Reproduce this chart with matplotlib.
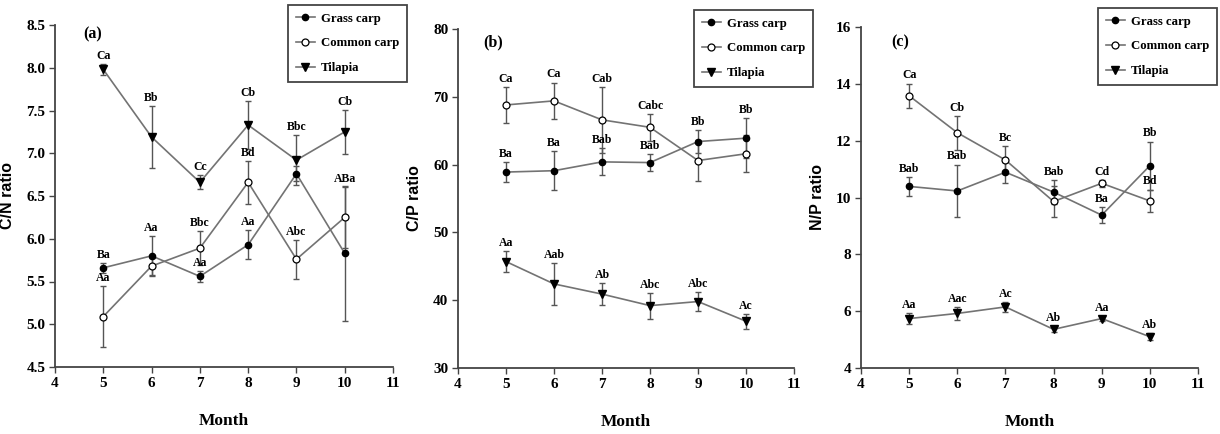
import matplotlib
matplotlib.use("Agg")
import matplotlib.pyplot as plt
from matplotlib.lines import Line2D

months = [5, 6, 7, 8, 9, 10]
series_names = ["Grass carp", "Common carp", "Tilapia"]

# Panel (a) C/N ratio
cn_grass = [5.66, 5.80, 5.56, 5.93, 6.76, 5.83]
cn_grass_err = [0.06, 0.23, 0.06, 0.17, 0.09, 0.79]
cn_common = [5.09, 5.68, 5.89, 6.66, 5.76, 6.25]
cn_common_err = [0.36, 0.10, 0.20, 0.25, 0.23, 0.36]
cn_tilapia = [7.98, 7.19, 6.66, 7.33, 6.92, 7.25]
cn_tilapia_err = [0.06, 0.36, 0.08, 0.28, 0.29, 0.26]
cn_grass_lab = ["Ba", "Aa", "Aa", "Aa", None, None]
cn_common_lab = ["Aa", None, "Bbc", "Bd", "Abc", "ABa"]
cn_tilapia_lab = ["Ca", "Bb", "Cc", "Cb", "Bbc", "Cb"]

# Panel (b) C/P ratio
cp_grass = [58.9, 59.1, 60.4, 60.3, 63.4, 63.9]
cp_grass_err = [1.5, 2.9, 2.0, 1.2, 1.7, 2.9]
cp_common = [68.8, 69.4, 66.6, 65.5, 60.6, 61.6]
cp_common_err = [2.6, 2.7, 4.9, 2.0, 3.0, 2.7]
cp_tilapia = [45.7, 42.4, 40.9, 39.2, 39.8, 36.9]
cp_tilapia_err = [1.6, 3.1, 1.6, 1.9, 1.4, 1.1]
cp_grass_lab = ["Ba", "Ba", "Bab", "Bab", "Bb", "Bb"]
cp_common_lab = ["Ca", "Ca", "Cab", "Cabc", None, None]
cp_tilapia_lab = ["Aa", "Aab", "Ab", "Abc", "Abc", "Ac"]

# Panel (c) N/P ratio
np_grass = [10.39, 10.23, 10.89, 10.19, 9.38, 11.12]
np_grass_err = [0.33, 0.93, 0.37, 0.42, 0.27, 0.85]
np_common = [13.58, 12.28, 11.32, 9.86, 10.50, 9.88]
np_common_err = [0.43, 0.60, 0.50, 0.55, 0.12, 0.40]
np_tilapia = [5.74, 5.92, 6.15, 5.36, 5.74, 5.10]
np_tilapia_err = [0.20, 0.22, 0.18, 0.10, 0.08, 0.12]
np_grass_lab = ["Bab", "Bab", None, "Bab", "Ba", "Bb"]
np_common_lab = ["Ca", "Cb", "Bc", None, "Cd", "Bd"]
np_tilapia_lab = ["Aa", "Aac", "Ac", "Ab", "Aa", "Ab"]

panel_letters = ["(a)", "(b)", "(c)"]
y_labels = ["C/N ratio", "C/P ratio", "N/P ratio"]
y_ticks = [
    [4.5, 5.0, 5.5, 6.0, 6.5, 7.0, 7.5, 8.0, 8.5],
    [30, 40, 50, 60, 70, 80],
    [4, 6, 8, 10, 12, 14, 16],
]
y_ticklabels = [
    ["4.5", "5.0", "5.5", "6.0", "6.5", "7.0", "7.5", "8.0", "8.5"],
    ["30", "40", "50", "60", "70", "80"],
    ["4", "6", "8", "10", "12", "14", "16"],
]
x_ticks = [4, 5, 6, 7, 8, 9, 10, 11]

panels = [
    ([cn_grass, cn_common, cn_tilapia], [cn_grass_err, cn_common_err, cn_tilapia_err],
     [cn_grass_lab, cn_common_lab, cn_tilapia_lab]),
    ([cp_grass, cp_common, cp_tilapia], [cp_grass_err, cp_common_err, cp_tilapia_err],
     [cp_grass_lab, cp_common_lab, cp_tilapia_lab]),
    ([np_grass, np_common, np_tilapia], [np_grass_err, np_common_err, np_tilapia_err],
     [np_grass_lab, np_common_lab, np_tilapia_lab]),
]

W, H = 1220, 434
fig = plt.figure(figsize=(W / 100, H / 100), dpi=100)

axes_px = [(55, 393, 25, 367), (458, 794, 29, 368), (861, 1198, 27, 368)]
legend_anchor_px = [(407, 5), (813, 10), (1217, 8)]
letter_pos = [(4.58, 0.973), (4.52, 0.96), (4.62, 0.955)]

serif = "Liberation Serif"
sans = "Liberation Sans"
line_col = "#737373"
markers = [dict(marker="o", mfc="black", mec="black", ms=4.5),
           dict(marker="o", mfc="white", mec="black", ms=5, mew=0.9),
           dict(marker="v", mfc="black", mec="black", ms=5.5)]

for i, (vals, errs, labs) in enumerate(panels):
    l, r, t, b = axes_px[i]
    ax = fig.add_axes([l / W, 1 - b / H, (r - l) / W, (b - t) / H])
    handles = []
    for s in range(3):
        ax.errorbar(months, vals[s], yerr=errs[s], fmt="none", ecolor="#555555",
                    elinewidth=1.0, capsize=2.5, capthick=1.0, zorder=2)
        ax.plot(months, vals[s], color=line_col, lw=1.2, zorder=3, **markers[s])
        handles.append(Line2D([], [], color=line_col, lw=1.2, **markers[s]))
        for m, v, e, lab in zip(months, vals[s], errs[s], labs[s]):
            if lab:
                ax.annotate(lab, (m, v + e), xytext=(0, 1.5), textcoords="offset points",
                            ha="center", va="bottom", fontsize=8.5, fontweight="bold",
                            family=serif, zorder=4)
    ax.set_xlim(4, 11)
    ax.set_ylim(y_ticks[i][0], y_ticks[i][-1])
    ax.set_xticks(x_ticks)
    ax.set_xticklabels([str(x) for x in x_ticks], family=serif, fontweight="bold", fontsize=11)
    ax.set_yticks(y_ticks[i])
    ax.set_yticklabels(y_ticklabels[i], family=serif, fontweight="bold", fontsize=11)
    ax.tick_params(direction="out", length=4, width=1.0, color="#444444", pad=3)
    for sp in ["top", "right"]:
        ax.spines[sp].set_visible(False)
    for sp in ["left", "bottom"]:
        ax.spines[sp].set_color("#444444")
        ax.spines[sp].set_linewidth(1.3)
    ax.set_xlabel("Month", family=serif, fontweight="bold", fontsize=12.5, labelpad=17)
    ax.set_ylabel(y_labels[i], family=sans, fontweight="bold", fontsize=11.5, labelpad=8)
    ax.text(letter_pos[i][0], letter_pos[i][1], panel_letters[i], transform=ax.get_xaxis_transform(),
            family=serif, fontweight="bold", fontsize=11.5, ha="left", va="center")
    ax_x, ax_y = legend_anchor_px[i]
    leg = fig.legend(handles, series_names, loc="upper right",
                     bbox_to_anchor=(ax_x / W, 1 - ax_y / H), bbox_transform=fig.transFigure,
                     prop={"family": serif, "weight": "bold", "size": 9.2},
                     fancybox=False, framealpha=1, edgecolor="#444444",
                     handlelength=1.5, handletextpad=0.5, labelspacing=1.0,
                     borderpad=0.6, borderaxespad=0)
    leg.get_frame().set_linewidth(1.3)

fig.savefig("out.png", dpi=100)
